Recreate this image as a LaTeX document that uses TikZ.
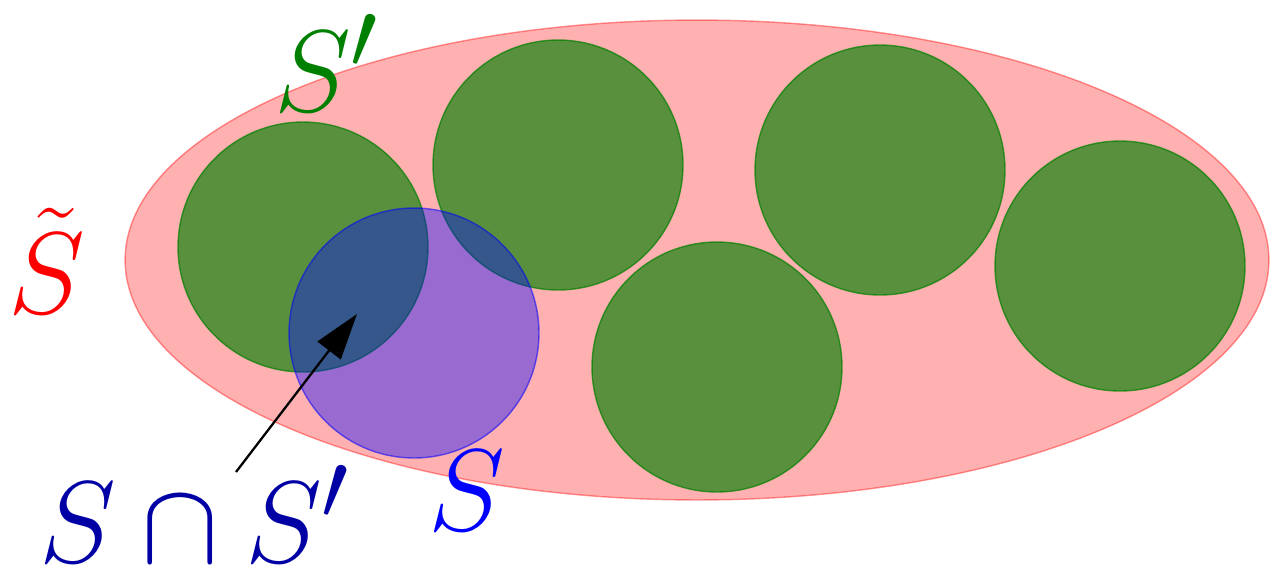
\documentclass[tikz,border=0pt]{standalone}
\usepackage{graphicx}
\usetikzlibrary{shapes.geometric,arrows.meta}
\definecolor{sgreen}{RGB}{0,128,0}
\definecolor{darkblue}{RGB}{0,0,165}
\newcommand{\biglab}[1]{\scalebox{2.66}{\Huge$#1$}}
\begin{document}
\begin{tikzpicture}[x=0.02cm,y=-0.02cm,
  region/.style={ellipse,inner sep=0,minimum width=22.88cm,minimum height=9.6cm,
    fill=red,fill opacity=0.31,draw=red,draw opacity=0.4,line width=0.8pt},
  disk/.style={circle,inner sep=0,minimum size=5cm,fill=sgreen,fill opacity=0.65,
    draw=sgreen,draw opacity=0.7,line width=0.8pt},
  sdisk/.style={circle,inner sep=0,minimum size=5cm,fill=blue,fill opacity=0.4,
    draw=blue,draw opacity=0.55,line width=0.8pt},
  lab/.style={inner sep=0},
  pointer/.style={-{Triangle[length=0.92cm,width=0.58cm]},line width=1.3pt,black}]
\useasboundingbox (0,0) rectangle (1270,566);
\node[region] (St) at (697,260) {};
\node[disk] (g1) at (303,247) {};
\node[disk] (g2) at (558,165) {};
\node[disk] (g3) at (880,170) {};
\node[disk] (g4) at (717,367) {};
\node[disk] (g5) at (1120,266) {};
\node[sdisk] (s) at (414,333) {};
\node[lab,text=sgreen] (lSp) at (327,63) {\biglab{S'}};
\node[lab,text=red] (lSt) at (47,261) {\biglab{\tilde S}};
\node[lab,text=blue] (lS) at (467,491) {\biglab{S}};
\node[lab,text=darkblue] (lcap) at (195,514) {\biglab{S\cap S'}};
\coordinate (a0) at (236,472);
\coordinate (a1) at (357,314);
\draw[pointer] (a0) -- (a1);
\end{tikzpicture}
\end{document}
